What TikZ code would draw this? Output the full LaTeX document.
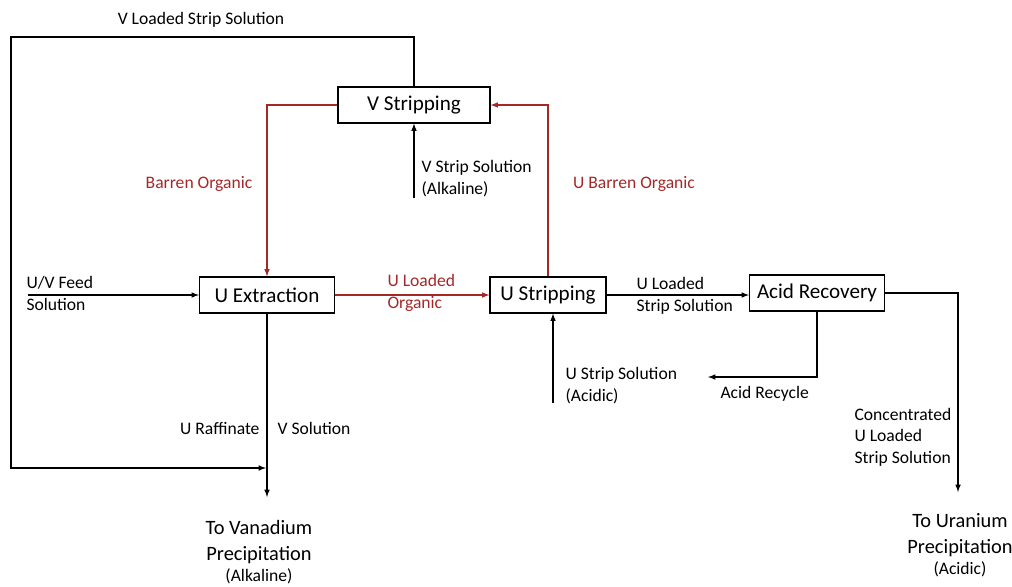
\documentclass[tikz,border=0pt]{standalone}
\usepackage{fontspec}
\setmainfont{Carlito}
\usetikzlibrary{arrows}
\definecolor{orgred}{RGB}{165,40,40}

\begin{document}
\begin{tikzpicture}[x=0.025cm,y=-0.025cm,line width=0.8pt,
	unit/.style={draw,minimum height=0.9cm,inner sep=2pt,font=\fontsize{15}{18}\selectfont},
	lbl/.style={inner sep=0pt,align=left,font=\fontsize{12.5}{15}\selectfont},
	big/.style={inner sep=0pt,align=center,font=\fontsize{14.5}{18.5}\selectfont}]
	\useasboundingbox (0,0) rectangle (1012,586);
	\node[unit,minimum width=3.8cm] (vstrip) at (414,105) {V Stripping};
	\node[unit,minimum width=3.375cm] (uext) at (267,295) {U Extraction};
	\node[unit,minimum width=2.9cm] (ustrip) at (548,295) {U Stripping};
	\node[unit,minimum width=3.375cm] (acid) at (817,293) {Acid Recovery};
	\coordinate (loop) at (11,37);
	\coordinate (vin) at (266,468);
	\coordinate (vsol) at (414,198);
	\coordinate (feed) at (28,295);
	\coordinate (usol) at (553,403);
	\coordinate (recyc) at (708,377);
	\coordinate (uout) at (958,492);
	\coordinate (vout) at (267,497);
	\draw [->,>=latex](vstrip.north) |- (loop) |- (vin);
	\draw [->,>=latex,orgred](vstrip.west) -| (uext.north);
	\draw [->,>=latex](vsol)--(vstrip.south);
	\draw [->,>=latex,orgred](ustrip.north) |- (vstrip.east);
	\draw [->,>=latex](feed)--(uext.west);
	\draw [->,>=latex,orgred](uext.east)--(ustrip.west);
	\draw [->,>=latex](ustrip.east)--(ustrip.east -| acid.west);
	\draw [->,>=latex](usol)--(usol |- ustrip.south);
	\draw [->,>=latex](acid.south) |- (recyc);
	\draw [->,>=latex](acid.east) -| (uout);
	\draw [->,>=latex](uext.south)--(vout);
	\node[lbl,anchor=base] (vload) at (201,24) {V Loaded Strip Solution};
	\node[lbl,anchor=base,orgred] (barren) at (199,188) {Barren Organic};
	\node[lbl,anchor=base,orgred] (ubarren) at (634,188) {U Barren Organic};
	\node[lbl,anchor=base west] (vstripsol) at (421,194) {V Strip Solution\\(Alkaline)};
	\node[lbl,anchor=base west] (feedsol) at (26,310) {U/V Feed\\Solution};
	\node[lbl,anchor=base west,orgred] (uorg) at (387,308) {U Loaded\\Organic};
	\node[lbl,anchor=base west] (ustripsol) at (636,311) {U Loaded\\Strip Solution};
	\node[lbl,anchor=base west] (uacid) at (565,401) {U Strip Solution\\(Acidic)};
	\node[lbl,anchor=base west] (recyclbl) at (720,398) {Acid Recycle};
	\node[lbl,anchor=base west] (conc) at (854,463) {Concentrated\\U Loaded\\Strip Solution};
	\node[lbl,anchor=base east] (raff) at (260,434) {U Raffinate};
	\node[lbl,anchor=base west] (vsolu) at (277,434) {V Solution};
	\node[big,anchor=base] (tovan) at (259,581) {To Vanadium\\Precipitation\\[-4pt]{\fontsize{12.5}{15}\selectfont(Alkaline)}};
	\node[big,anchor=base] (toura) at (960,574) {To Uranium\\Precipitation\\[-4pt]{\fontsize{12.5}{15}\selectfont(Acidic)}};
\end{tikzpicture}
\end{document}
